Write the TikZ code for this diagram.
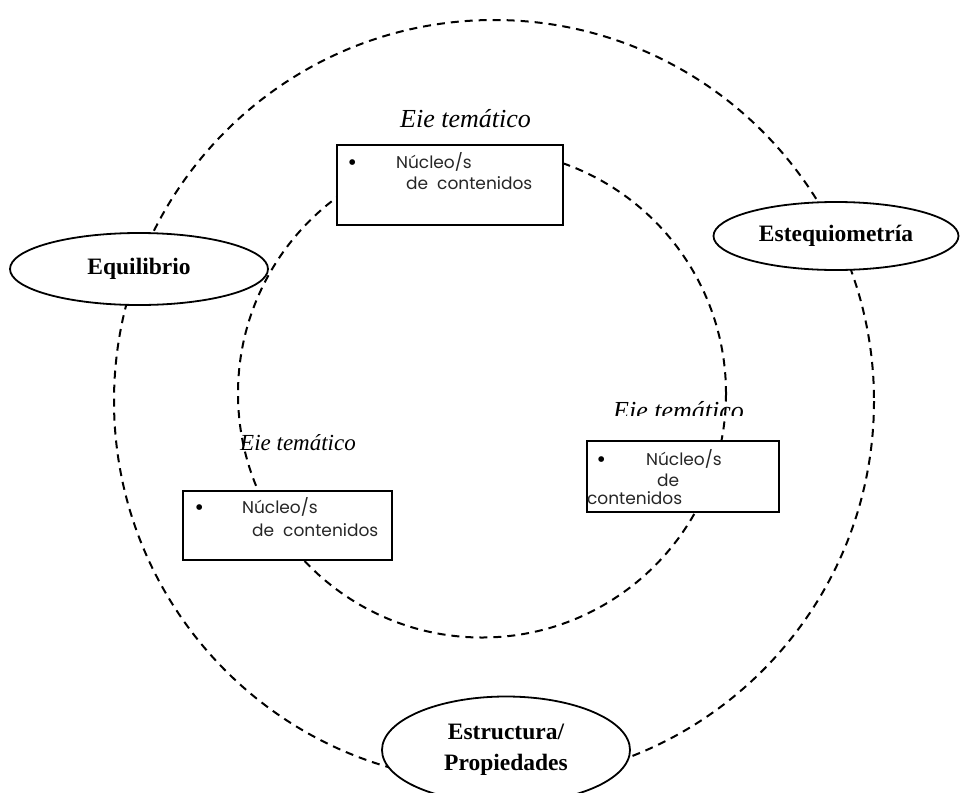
\documentclass[tikz,border=0pt]{standalone}
\usepackage{fontspec}
\setmainfont{Liberation Serif}
\newfontfamily\boxfont{Poppins}
\usetikzlibrary{shapes.geometric}

\tikzset{
  ring/.style={line width=2pt, dash pattern=on 8pt off 6pt},
  topic/.style={ellipse, draw, line width=1.8pt, fill=white, inner sep=0pt, align=center,
    font=\fontsize{23.5}{31}\selectfont\bfseries},
  nbox/.style={draw, line width=2.2pt, fill=white, inner sep=0pt},
  eje/.style={anchor=base west, inner sep=0pt, font=\fontsize{26}{30}\selectfont\itshape},
  ntext/.style={anchor=base west, inner sep=0pt, text=black!85,
    font=\boxfont\fontsize{17}{19}\selectfont},
  bull/.style={anchor=base west, inner sep=0pt, font=\fontsize{24}{24}\selectfont}
}

\begin{document}
\begin{tikzpicture}[x=1pt,y=-1pt]
        \useasboundingbox (0,0) rectangle (960,792);
        \draw [ring] (494,401) ellipse [x radius=380, y radius=381];
        \draw [ring] (482,393.5) circle [radius=244];
        \node [topic, minimum width=258pt, minimum height=72pt] (equil) at (139,269) {Equilibrio};
        \node [topic, minimum width=245pt, minimum height=68pt] (esteq) at (836,236) {Estequiometría};
        \node [topic, minimum width=248pt, minimum height=107pt] (estruc) at (506,750) {Estructura/\\Propiedades};
        \node [eje] (ejetop) at (400,127) {Eie temático};
        \node [nbox, minimum width=226pt, minimum height=80pt] (boxtop) at (450,185) {};
        \node [bull] (bultop) at ([shift={(12,27)}]boxtop.north west) {\textbullet};
        \node [ntext] (nuctop) at ([shift={(60,25)}]boxtop.north west) {Núcleo/s};
        \node [ntext] (contop) at ([shift={(70,46)}]boxtop.north west) {de\ \ contenidos};
        \node [eje, font=\fontsize{23}{27}\selectfont\itshape] (ejeleft) at (240,450) {Eie temático};
        \node [nbox, minimum width=209pt, minimum height=69pt] (boxleft) at (287.5,525.5) {};
        \node [bull] (bulleft) at ([shift={(13,26)}]boxleft.north west) {\textbullet};
        \node [ntext] (nucleft) at ([shift={(60,24)}]boxleft.north west) {Núcleo/s};
        \node [ntext] (conleft) at ([shift={(70,47)}]boxleft.north west) {de\ \ contenidos};
        \begin{scope}
          \clip (600,380) rectangle (760,415);
          \node [eje] (ejeright) at (613,419) {Eie temático};
        \end{scope}
        \node [nbox, minimum width=192pt, minimum height=71pt] (boxright) at (683,476.5) {};
        \node [bull] (bulright) at ([shift={(11,28)}]boxright.north west) {\textbullet};
        \node [ntext] (nucright) at ([shift={(60,26)}]boxright.north west) {Núcleo/s};
        \node [ntext] (deright) at ([shift={(71,47)}]boxright.north west) {de};
        \node [ntext] (conright) at ([shift={(1,65)}]boxright.north west) {contenidos};
\end{tikzpicture}
\end{document}
